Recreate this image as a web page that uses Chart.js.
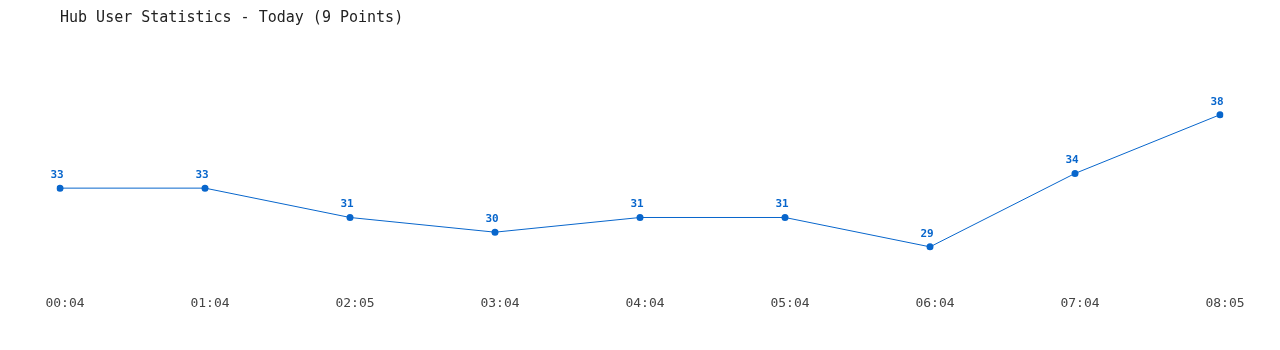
<!DOCTYPE html>
<html>
<head>
<meta charset="utf-8">
<script src="https://cdn.jsdelivr.net/npm/chart.js@4/dist/chart.umd.min.js"></script>
<style>
html,body{margin:0;padding:0;background:#fff;}
#wrap{width:1280px;height:350px;position:relative;}
</style>
</head>
<body>
<div id="wrap"><canvas id="c" width="1280" height="350"></canvas></div>
<script>
const titleText = "Hub User Statistics - Today (9 Points)";
const timeLabels = ["00:04","01:04","02:05","03:04","04:04","05:04","06:04","07:04","08:05"];
const userCounts = [33,33,31,30,31,31,29,34,38];
const yMin = 26;
const yMax = 42;

const lineColor = "#0866cc";
const monoFont = "'DejaVu Sans Mono', 'Liberation Mono', monospace";

const valueLabels = {
  id: "valueLabels",
  afterDatasetsDraw(chart) {
    const ctx = chart.ctx;
    const meta = chart.getDatasetMeta(0);
    ctx.save();
    ctx.font = "bold 11px " + monoFont;
    ctx.fillStyle = lineColor;
    ctx.textAlign = "center";
    ctx.textBaseline = "middle";
    meta.data.forEach((pt, i) => {
      ctx.fillText(String(chart.data.datasets[0].data[i]), pt.x - 3, pt.y - 13);
    });
    ctx.restore();
  }
};

new Chart(document.getElementById("c"), {
  type: "line",
  data: {
    labels: timeLabels,
    datasets: [{
      data: userCounts,
      borderColor: lineColor,
      backgroundColor: lineColor,
      borderWidth: 1,
      pointRadius: 3.5,
      pointHoverRadius: 3.5,
      pointBackgroundColor: lineColor,
      pointBorderWidth: 0,
      tension: 0,
      fill: false
    }]
  },
  options: {
    responsive: false,
    animation: false,
    devicePixelRatio: 1,
    layout: { padding: { left: 60, right: 60, top: 0, bottom: 33.5 } },
    plugins: {
      legend: { display: false },
      tooltip: { enabled: false },
      title: {
        display: true,
        text: titleText,
        align: "start",
        color: "#222",
        font: { family: monoFont, size: 15, weight: "normal" },
        padding: { top: 9, bottom: 29 }
      }
    },
    scales: {
      x: {
        offset: false,
        grid: { display: false, drawTicks: false },
        border: { display: false },
        ticks: {
          color: "#444",
          font: { family: monoFont, size: 13 },
          padding: 5,
          labelOffset: 5,
          maxRotation: 0,
          autoSkip: false
        }
      },
      y: {
        display: false,
        min: yMin,
        max: yMax
      }
    }
  },
  plugins: [valueLabels]
});
</script>
</body>
</html>
